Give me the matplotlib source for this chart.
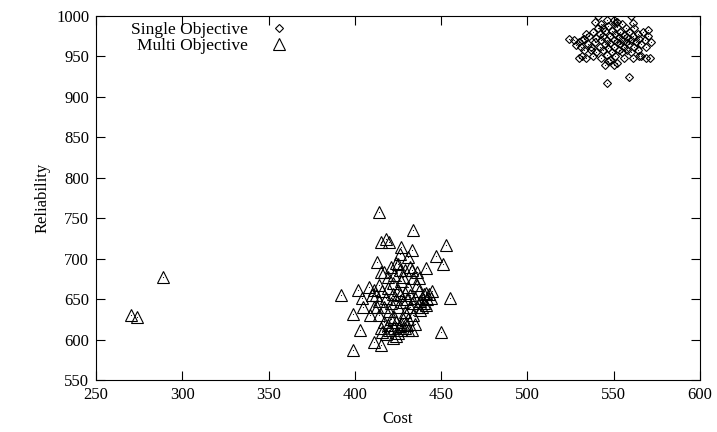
import numpy as np
import matplotlib
matplotlib.use('Agg')
import matplotlib.pyplot as plt

plt.rcParams['font.family'] = 'Liberation Serif'
plt.rcParams['font.size'] = 12

# single objective runs (cost, reliability)
single_cost = [524, 528, 530, 532, 530, 532, 534, 541, 560, 539, 550, 551, 561,
               544, 570, 533, 545, 547, 561, 566, 569, 571, 546, 559,
               536, 537, 538, 539, 540, 540, 541, 542, 542, 543, 544, 544, 545,
               545, 546, 546, 547, 547, 548, 548, 549, 549, 550, 550, 551, 551,
               552, 552, 553, 553, 554, 554, 555, 555, 556, 556, 557, 557, 558,
               558, 559, 559, 560, 560, 561, 562, 562, 563, 564, 564, 565, 566,
               567, 568, 569, 535, 537, 543, 546, 552, 555, 548, 552, 556, 550,
               543, 538, 565, 570, 572, 534, 531, 527, 533]
single_rel = [972, 964, 968, 970, 948, 950, 948, 1000, 1000, 993, 995, 991, 991,
              985, 983, 972, 939, 944, 948, 950, 948, 948, 917, 925,
              975, 962, 980, 968, 955, 973, 985, 962, 978, 970, 958, 975, 965,
              982, 952, 970, 988, 960, 975, 966, 955, 982, 970, 962, 978, 950,
              968, 986, 958, 974, 965, 980, 970, 955, 962, 976, 985, 968, 958,
              974, 965, 980, 970, 955, 975, 962, 985, 968, 978, 958, 972, 965,
              980, 970, 962, 965, 958, 990, 995, 993, 990, 945, 942, 948, 940,
              948, 950, 950, 975, 968, 978, 962, 970, 958]

# multi objective runs (cost, reliability)
multi_cost = [270, 274, 289,
              392, 399, 402, 404, 399, 403, 405, 408, 409, 411, 411, 414, 414,
              415, 414, 415, 418, 413, 415, 417, 420, 426, 427, 425, 429, 431,
              433, 433, 434, 436, 441, 447, 451, 453, 436, 440, 444, 455, 439,
              432, 450, 431, 424,
              412, 414, 416, 417, 418, 419, 420, 421, 422, 422, 423, 424, 425,
              425, 426, 427, 427, 428, 429, 429, 430, 431, 431, 432, 433, 434,
              434, 435, 436, 437, 438, 439, 440, 441, 442, 443, 415, 416, 417,
              418, 419, 420, 421, 422, 423, 424, 425, 426, 427, 428, 429, 430,
              413, 410, 411, 419, 423, 426, 428, 432, 437, 435, 433, 438, 441,
              445, 424, 421]
multi_rel = [631, 628, 677,
             655, 587, 661, 651, 632, 612, 641, 665, 630, 641, 597, 668, 630,
             593, 758, 721, 725, 696, 684, 684, 721, 706, 715, 694, 686, 702,
             711, 686, 736, 684, 688, 703, 694, 717, 668, 657, 651, 651, 641,
             641, 610, 612, 604,
             655, 648, 660, 641, 652, 664, 635, 645, 657, 670, 628, 650, 640,
             662, 655, 620, 672, 646, 634, 658, 650, 625, 665, 655, 645, 630,
             676, 652, 640, 660, 648, 652, 645, 658, 650, 656, 615, 610, 622,
             607, 618, 612, 625, 602, 615, 622, 608, 617, 612, 625, 614, 618,
             640, 655, 662, 677, 680, 686, 677, 690, 676, 620, 612, 637, 643,
             660, 695, 690]

fig = plt.figure(figsize=(7.17, 4.32), dpi=100)
ax = fig.add_axes([0.134, 0.120, 0.842, 0.843])

ax.plot(single_cost, single_rel, 'D', ms=4.3, mfc='none', mec='k', mew=0.8,
        label='Single Objective')
ax.plot(multi_cost, multi_rel, '^', ms=8, mfc='none', mec='k', mew=0.8,
        label='Multi Objective')
# gnuplot style centre dots
ax.plot(single_cost, single_rel, 'o', ms=0.8, color='k', mew=0)
ax.plot(multi_cost, multi_rel, 'o', ms=0.8, color='k', mew=0)

ax.set_xlim(250, 600)
ax.set_ylim(550, 1000)
ax.set_xticks(np.arange(250, 601, 50))
ax.set_yticks(np.arange(550, 1001, 50))
ax.tick_params(direction='in', length=6.5, width=0.8, top=True, right=True,
               pad=5, labelsize=12)
for s in ax.spines.values():
    s.set_linewidth(0.8)

ax.set_xlabel('Cost', fontsize=12, labelpad=6)
ax.set_ylabel('Reliability', fontsize=12, labelpad=4)

ax.legend(loc='upper right', bbox_to_anchor=(296 / 717, 1 - 22 / 432),
          bbox_transform=fig.transFigure, frameon=False, markerfirst=False,
          borderpad=0, borderaxespad=0, labelspacing=0.0, handlelength=2.0,
          handletextpad=0.8, fontsize=12.5)

plt.savefig('out.png', dpi=100)
